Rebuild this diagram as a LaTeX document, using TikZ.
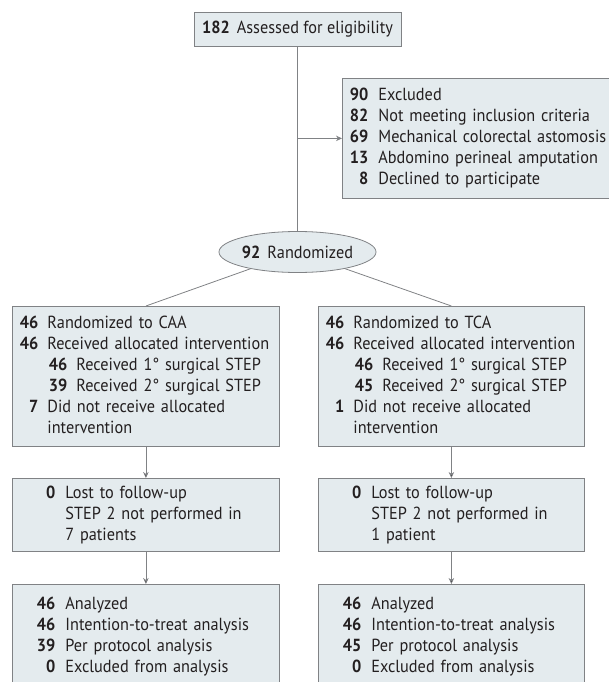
\documentclass[tikz,border=0pt]{standalone}
\usepackage{fontspec}
\setmainfont{PT Sans}[FakeStretch=0.93]
\usepackage{array}
\usetikzlibrary{shapes.geometric,arrows.meta}
\newcolumntype{R}[1]{>{\raggedleft\arraybackslash\bfseries}p{#1}}
\newcommand{\subn}[1]{\makebox[20pt][r]{\bfseries #1}\hspace{9pt}}
\definecolor{boxfill}{RGB}{228,235,238}
\definecolor{boxline}{RGB}{128,130,133}
\definecolor{ink}{RGB}{35,31,32}

\begin{document}
\begin{tikzpicture}[x=1pt,y=-1pt,font=\fontsize{17.5}{21}\selectfont,text=ink,
  flow/.style={draw=boxline,fill=boxfill,line width=0.8pt,inner sep=0pt,anchor=north west,align=left},
  conn/.style={draw=boxline,line width=0.8pt},
  tip/.style={-{Stealth[length=6pt,width=5.5pt]}}]
\clip (0,0) rectangle (609,682);
\node[flow,anchor=center,minimum width=207pt,minimum height=34pt,align=center] (elig) at (297.5,29) {\textbf{182}\hspace{7pt}Assessed for eligibility};
\node[flow,text width=270pt,minimum height=120pt] (excl) at (342,78) {%
\begin{tabular}{@{}R{26pt}@{\hspace{10pt}}l@{}}
90 & Excluded\\
82 & Not meeting inclusion criteria\\
69 & Mechanical colorectal astomosis\\
13 & Abdomino perineal amputation\\
8 & Declined to participate
\end{tabular}};
\node[ellipse,draw=boxline,fill=boxfill,line width=0.8pt,inner sep=0pt,minimum width=145pt,minimum height=41pt] (rnd) at (297.5,252) {\textbf{92}\hspace{7pt}Randomized};
% CAA arm
\node[flow,text width=267pt,minimum height=140pt] (caa) at (12,306) {%
\begin{tabular}{@{}R{26pt}@{\hspace{9pt}}l@{}}
46 & Randomized to CAA\\
46 & Received allocated intervention\\
 & \subn{46}Received 1° surgical STEP\\
 & \subn{39}Received 2° surgical STEP\\
7 & Did not receive allocated\\
 & intervention
\end{tabular}};
\node[flow,text width=267pt,minimum height=73pt] (caalost) at (12,478) {%
\begin{tabular}{@{}R{43pt}@{\hspace{10pt}}l@{}}
0 & Lost to follow-up\\
 & STEP 2 not performed in\\
 & 7 patients
\end{tabular}};
\node[flow,text width=267pt,minimum height=104pt] (caaan) at (12,584) {%
\begin{tabular}{@{}R{43pt}@{\hspace{10pt}}l@{}}
46 & Analyzed\\
46 & Intention-to-treat analysis\\
39 & Per protocol analysis\\
0 & Excluded from analysis
\end{tabular}};
% TCA arm
\node[flow,text width=266pt,minimum height=140pt] (tca) at (318,306) {%
\begin{tabular}{@{}R{26pt}@{\hspace{9pt}}l@{}}
46 & Randomized to TCA\\
46 & Received allocated intervention\\
 & \subn{46}Received 1° surgical STEP\\
 & \subn{45}Received 2° surgical STEP\\
1 & Did not receive allocated\\
 & intervention
\end{tabular}};
\node[flow,text width=266pt,minimum height=73pt] (tcalost) at (318,478) {%
\begin{tabular}{@{}R{43pt}@{\hspace{10pt}}l@{}}
0 & Lost to follow-up\\
 & STEP 2 not performed in\\
 & 1 patient
\end{tabular}};
\node[flow,text width=266pt,minimum height=104pt] (tcaan) at (318,584) {%
\begin{tabular}{@{}R{43pt}@{\hspace{10pt}}l@{}}
46 & Analyzed\\
46 & Intention-to-treat analysis\\
45 & Per protocol analysis\\
0 & Excluded from analysis
\end{tabular}};
\draw[conn] (elig) -- (rnd);
\coordinate (split) at (elig.south |- excl.west);
\draw[conn,tip] (split) -- (excl);
\path[conn]
(rnd) edge (caa.north)
(rnd) edge (tca.north);
\path[conn,tip]
(caa) edge (caalost)
(caalost) edge (caaan)
(tca) edge (tcalost)
(tcalost) edge (tcaan);
\end{tikzpicture}
\end{document}
